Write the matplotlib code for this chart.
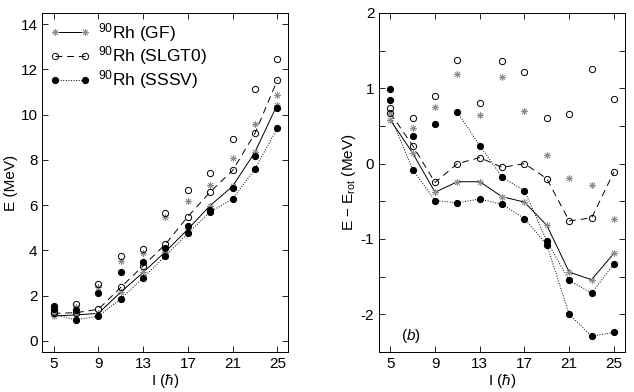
import numpy as np
import matplotlib
matplotlib.use('Agg')
import matplotlib.pyplot as plt

plt.rcParams['font.family'] = ['Liberation Sans', 'DejaVu Sans']
plt.rcParams['mathtext.fontset'] = 'custom'
plt.rcParams['mathtext.rm'] = 'Liberation Sans'
plt.rcParams['mathtext.it'] = 'Liberation Sans:italic'
plt.rcParams['font.size'] = 11

spins = [5, 7, 9, 11, 13, 15, 17, 19, 21, 23, 25]

# left panel: E (MeV)
gf_low = [1.09, 1.14, 1.21, 2.15, 3.02, 3.94, 4.93, 5.98, 6.83, 8.34, 10.44]
gf_up = [1.20, 1.48, 2.39, 3.54, 3.89, 5.49, 6.17, 6.89, 8.07, 9.60, 10.87]
sl_low = [1.21, 1.24, 1.39, 2.36, 3.31, 4.27, 5.49, 6.58, 7.53, 9.17, 11.52]
sl_up = [1.28, 1.61, 2.52, 3.76, 4.07, 5.65, 6.67, 7.41, 8.93, 11.12, 12.47]
ss_low = [1.17, 0.92, 1.09, 1.85, 2.77, 3.76, 4.75, 5.70, 6.27, 7.60, 9.40]
ss_up = [1.39, 1.36, 2.12, 3.04, 3.50, 4.10, 5.09, 5.77, 6.74, 8.17, 10.30]
ss_extra = [1.54]  # second filled point at I=5

# right panel: E - E_rot (MeV)
gf_low_r = [0.58, 0.14, -0.38, -0.24, -0.24, -0.44, -0.51, -0.82, -1.44, -1.54, -1.19]
gf_up_r = [0.67, 0.47, 0.75, 1.19, 0.64, 1.15, 0.70, 0.11, -0.19, -0.29, -0.74]
sl_low_r = [0.67, 0.24, -0.25, 0.00, 0.08, -0.05, 0.00, -0.20, -0.76, -0.72, -0.11]
sl_up_r = [0.74, 0.60, 0.90, 1.38, 0.81, 1.36, 1.22, 0.60, 0.66, 1.25, 0.86]
ss_low_r = [0.63, -0.08, -0.49, -0.52, -0.47, -0.54, -0.73, -1.08, -2.00, -2.29, -2.24]
ss_up_r = [0.85, 0.37, 0.52, 0.68, 0.24, -0.18, -0.36, -1.03, -1.55, -1.72, -1.33]
ss_extra_r = [0.99]

labels = [r'$^{90}$Rh (GF)', r'$^{90}$Rh (SLGT0)', r'$^{90}$Rh (SSSV)']

star = dict(marker=(8, 2, 0), ms=5, mec='0.55', mew=0.6, ls='none')
circ = dict(marker='o', ms=4.5, mfc='none', mec='k', mew=0.7, ls='none')
dot = dict(marker='o', ms=4.2, mfc='k', mec='k', ls='none')


def draw(ax, low_gf, up_gf, low_sl, up_sl, low_ss, up_ss, extra, second_branch):
    I = np.array(spins)
    ax.plot(I, low_gf, '-', color='k', lw=0.7)
    ax.plot(I, low_sl, '--', color='k', lw=0.7, dashes=(7, 5))
    ax.plot(I, low_ss, ':', color='k', lw=0.7)
    if second_branch:
        ax.plot(I[3:], up_ss[3:], ':', color='k', lw=0.7)
    ax.plot(I, up_gf, **star)
    ax.plot(I, low_gf, **star)
    ax.plot(I, up_sl, **circ)
    ax.plot(I, low_sl, **circ)
    ax.plot(I[1:], low_ss[1:], **dot)
    ax.plot(I, up_ss, **dot)
    ax.plot([spins[0]] * len(extra), extra, **dot)
    ax.set_xlim(4, 26)
    ax.set_xticks([5, 9, 13, 17, 21, 25])
    ax.tick_params(direction='in', top=True, right=True, length=4, width=0.6, labelsize=11)
    for s in ax.spines.values():
        s.set_linewidth(0.7)
    ax.set_xlabel(r'I ($\hbar$)', labelpad=1)


fig = plt.figure(figsize=(6.34, 3.92), dpi=100)
ax1 = fig.add_axes([0.067, 0.102, 0.388, 0.865])
ax2 = fig.add_axes([0.598, 0.102, 0.388, 0.865])

draw(ax1, gf_low, gf_up, sl_low, sl_up, ss_low, ss_up, ss_extra, False)
ax1.set_ylim(-0.5, 14.5)
ax1.set_yticks(range(0, 15, 2))
ax1.set_ylabel('E (MeV)', labelpad=2)

h1, = ax1.plot([], [], '-', color='k', lw=0.7, marker=(8, 2, 0), ms=5, mec='0.55', mew=0.6)
h2, = ax1.plot([], [], '--', color='k', lw=0.7, dashes=(7, 5), marker='o', ms=4.5, mfc='none', mec='k', mew=0.7)
h3, = ax1.plot([], [], ':', color='k', lw=0.7, marker='o', ms=4.2, mfc='k', mec='k')
ax1.legend([h1, h2, h3], labels, loc='upper left', frameon=False, numpoints=2,
           handlelength=2.3, handletextpad=0.45, labelspacing=0.05,
           borderaxespad=0.25, borderpad=0.2, fontsize=12.5)

draw(ax2, gf_low_r, gf_up_r, sl_low_r, sl_up_r, ss_low_r, ss_up_r, ss_extra_r, True)
ax2.set_ylim(-2.5, 2)
yt = np.arange(-2.5, 2.01, 0.5)
ax2.set_yticks(yt)
ax2.set_yticklabels([str(int(v)) if v == int(v) else '' for v in yt])
ax2.set_ylabel(r'E $-$ E$_{\rm rot}$ (MeV)', labelpad=2)
ax2.text(6.0, -2.29, r'($b$)', fontsize=11, va='center')

fig.savefig('out.png', dpi=100)
